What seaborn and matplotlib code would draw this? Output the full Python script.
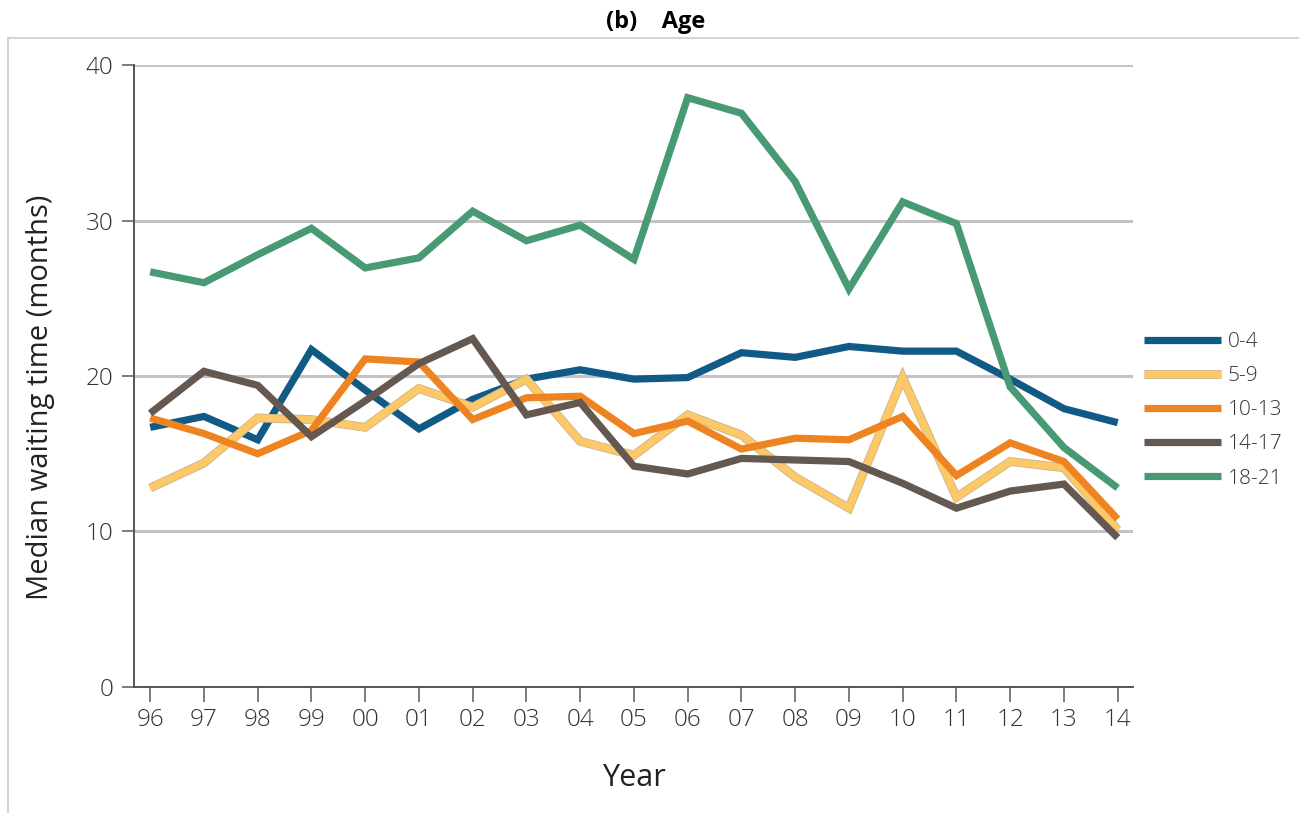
import matplotlib
matplotlib.use("Agg")
import matplotlib.pyplot as plt
import matplotlib.patheffects as pe
from matplotlib.patches import Rectangle
import seaborn as sns
import pandas as pd

years = ["96", "97", "98", "99", "00", "01", "02", "03", "04", "05",
         "06", "07", "08", "09", "10", "11", "12", "13", "14"]
age_groups = ["0-4", "5-9", "10-13", "14-17", "18-21"]

wait_0_4 = [16.7, 17.4, 15.9, 21.7, 19.1, 16.6, 18.5, 19.8, 20.4, 19.8,
            19.9, 21.5, 21.2, 21.9, 21.6, 21.6, 19.8, 17.9, 17.0]
wait_5_9 = [12.8, 14.4, 17.3, 17.2, 16.7, 19.2, 18.0, 19.8, 15.8, 14.9,
            17.5, 16.2, 13.5, 11.5, 19.9, 12.2, 14.5, 14.1, 10.1]
wait_10_13 = [17.3, 16.3, 15.0, 16.5, 21.1, 20.9, 17.2, 18.6, 18.7, 16.3,
              17.1, 15.3, 16.0, 15.9, 17.4, 13.6, 15.7, 14.5, 10.8]
wait_14_17 = [17.6, 20.3, 19.4, 16.1, 18.4, 20.8, 22.4, 17.5, 18.3, 14.2,
              13.7, 14.7, 14.6, 14.5, 13.1, 11.5, 12.6, 13.05, 9.6]
wait_18_21 = [26.7, 26.0, 27.8, 29.5, 26.95, 27.6, 30.6, 28.7, 29.7, 27.5,
              37.9, 36.9, 32.5, 25.6, 31.2, 29.8, 19.3, 15.4, 12.8]

series = [wait_0_4, wait_5_9, wait_10_13, wait_14_17, wait_18_21]
palette = ["#125a86", "#fdc868", "#ee8421", "#645850", "#479a74"]

rows = []
for grp, vals in zip(age_groups, series):
    for i, v in enumerate(vals):
        rows.append({"pos": i, "year": years[i], "group": grp, "wait": v})
df = pd.DataFrame(rows)

sns.set_style("white")
plt.rcParams["font.family"] = ["Open Sans", "DejaVu Sans"]

fig = plt.figure(figsize=(12.99, 8.13), dpi=100)
ax = fig.add_axes([0.1032, 0.155, 0.7688, 0.765])

# light frame around the panel
fig.patches.append(Rectangle((8 / 1299, -0.05), 1.1, 1.05 - 38 / 813,
                             transform=fig.transFigure, fill=False,
                             edgecolor="#d4d4d4", linewidth=1.5, zorder=0))

for y in [10, 20, 30, 40]:
    ax.axhline(y, color="#c4c2c2", linewidth=2.2, zorder=1)

sns.lineplot(data=df, x="pos", y="wait", hue="group", hue_order=age_groups,
             palette=palette, linewidth=5.2, ax=ax, legend=False, zorder=3)

lines = ax.get_lines()[4:]
for ln in lines:
    ln.set_solid_joinstyle("miter")
    ln.set_solid_capstyle("butt")
lines[1].set_path_effects([pe.Stroke(linewidth=6.4, foreground="#c9b68e"),
                           pe.Normal()])

ax.set_xlim(-0.3, 18.28)
ax.set_ylim(0, 40)
ax.set_xticks(range(len(years)))
ax.set_xticklabels(years)
ax.set_yticks([0, 10, 20, 30, 40])

for side in ["top", "right"]:
    ax.spines[side].set_visible(False)
for side in ["left", "bottom"]:
    ax.spines[side].set_color("#555555")
    ax.spines[side].set_linewidth(1.4)

ax.tick_params(axis="x", direction="out", length=11, width=1.2,
               color="#666666", labelsize=17.5, labelcolor="#333333", pad=4)
ax.tick_params(axis="y", direction="out", length=9, width=1.2,
               color="#666666", labelsize=17.5, labelcolor="#333333", pad=6)
ax.tick_params(bottom=True, left=True)
for lbl in ax.get_xticklabels() + ax.get_yticklabels():
    lbl.set_fontweight("light")

ax.set_xlabel("Year", fontsize=22, color="#222222")
ax.set_ylabel("Median waiting time (months)", fontsize=21, color="#222222")
ax.xaxis.set_label_coords(0.5, -0.146)
ax.yaxis.set_label_coords(-0.094, 0.466)
ax.xaxis.label.set_va("center")
ax.yaxis.label.set_va("center")

leg = ax.legend(handles=lines, labels=age_groups, loc="center left",
                bbox_to_anchor=(1.0115, 0.445), frameon=False, fontsize=15,
                handlelength=3.7, handletextpad=0.3, labelspacing=0.68,
                borderaxespad=0, borderpad=0, labelcolor="#333333")
for t in leg.get_texts():
    t.set_fontweight("light")

fig.text(656 / 1299, 1 - 22 / 813, "(b)    Age", ha="center", va="center",
         fontsize=17, fontweight="bold", color="#000000")

fig.savefig("out.png", dpi=100)
